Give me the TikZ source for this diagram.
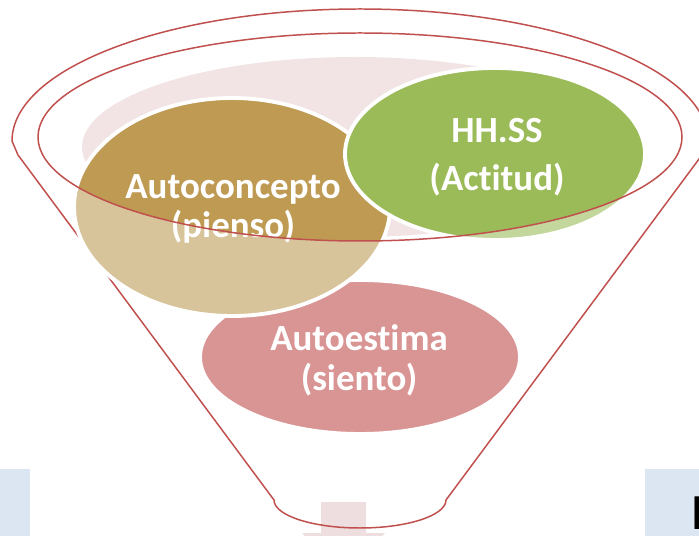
\documentclass[tikz,border=0pt]{standalone}
\usepackage{fontspec}
\setmainfont{Carlito}[Ligatures={NoCommon,NoRare}]
\definecolor{rimred}{HTML}{C0504D}
\definecolor{panelblue}{HTML}{DCE6F2}
\definecolor{arrowpink}{HTML}{EEDEDF}
\definecolor{palepink}{HTML}{F2E4E5}
\definecolor{rosepink}{HTML}{D99594}
\definecolor{browndark}{HTML}{BE9A52}
\definecolor{brownlight}{HTML}{D8C49A}
\definecolor{greendark}{HTML}{9BBB59}
\definecolor{greenlight}{HTML}{C3D69B}

\begin{document}
\begin{tikzpicture}
[x=0.02cm,y=0.02cm,
  rim/.style={draw=rimred,line width=0.85pt},
  disc/.style={draw=white,line width=2.2pt},
  lbl/.style={text=white,align=center,font=\bfseries\fontsize{21}{22.7}\selectfont}]
  \useasboundingbox (0,0) rectangle (699,-536);

  % side panels
  \fill[panelblue] (0,-469) rectangle (30,-536);
  \fill[panelblue] (645,-469) rectangle (699,-536);
  \node[anchor=base west,inner sep=0pt,font=\fontsize{29}{34}\selectfont] (hpanel) at (691,-529) {H};

  % arrow under the funnel
  \fill[arrowpink] (321,-502) -- (366,-502) -- (366,-533) -- (385,-533)
     -- (343.5,-575) -- (302,-533) -- (321,-533) -- cycle;

  % funnel outline
  \draw[rim] (18,-155) -- (12,-141)
     arc[start angle=180,end angle=0,x radius=348,y radius=132]
     -- (702,-155) -- (446,-500)
     arc[start angle=0,end angle=-180,x radius=86,y radius=28] -- cycle;

  % inside of the rim
  \fill[palepink] (355,-147) ellipse [x radius=273,y radius=90];

  % Autoestima
  \draw[disc,fill=rosepink] (360,-357) ellipse [x radius=160,y radius=77];

  % Autoconcepto
  \fill[brownlight] (232,-207) ellipse [x radius=158,y radius=109];
  \begin{scope}
    \clip (360,-137) ellipse [x radius=322,y radius=104];
    \fill[browndark] (232,-207) ellipse [x radius=158,y radius=109];
  \end{scope}
  \draw[disc] (232,-207) ellipse [x radius=158,y radius=109];

  % HH.SS
  \fill[greenlight] (495,-154) ellipse [x radius=150,y radius=86];
  \begin{scope}
    \clip (360,-137) ellipse [x radius=322,y radius=104];
    \fill[greendark] (495,-154) ellipse [x radius=150,y radius=86];
  \end{scope}
  \draw[disc] (495,-154) ellipse [x radius=150,y radius=86];

  \node[lbl] (autoconcepto) at (233,-209) {Autoconcepto\\(pienso)};
  \node[lbl] (hhss) at (497,-157) {HH.SS\\[4.5pt](Actitud)};
  \node[lbl] (autoestima) at (359,-360) {Autoestima\\(siento)};

  % rim on top
  \draw[rim] (360,-137) ellipse [x radius=322,y radius=104];

\end{tikzpicture}
\end{document}
